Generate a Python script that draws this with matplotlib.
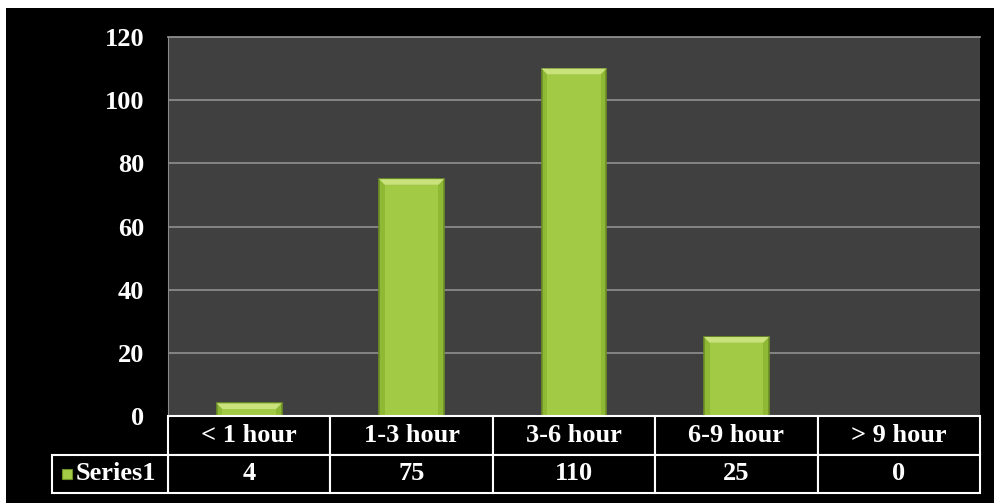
import matplotlib.pyplot as plt
from matplotlib.patches import Rectangle, Polygon

# data
categories = ['< 1 hour', '1-3 hour', '3-6 hour', '6-9 hour', '> 9 hour']
values = [4, 75, 110, 25, 0]
series_name = 'Series1'
yticks = [0, 20, 40, 60, 80, 100, 120]

W, H = 995, 503
fig = plt.figure(figsize=(W / 100, H / 100), dpi=100, facecolor='white')

# black slide background (white sliver at top/left)
fig.patches.append(Rectangle((6 / W, 0), 1, (H - 8) / H, transform=fig.transFigure,
                             facecolor='black', edgecolor='none', zorder=-10))

ax_l, ax_r, ax_t, ax_b = 168, 980, 37, 416
ax = fig.add_axes([ax_l / W, (H - ax_b) / H, (ax_r - ax_l) / W, (ax_b - ax_t) / H])
ax.set_facecolor('#404040')

font = dict(family='Liberation Serif', weight='bold', color='white')

x = range(len(categories))
bar_w = 0.4
ax.bar(x, values, width=bar_w, color='#8fb834', edgecolor='#6d8f25', linewidth=1.2, zorder=3)
# lighter bevel on top of each bar
bev = 1.8
for i, v in enumerate(values):
    if v <= 0:
        continue
    b = min(bev, v * 0.5)
    xl, xr = i - bar_w / 2, i + bar_w / 2
    ax.add_patch(Rectangle((xl + 0.035, 0), bar_w - 0.07, v - b, facecolor='#a2ca45',
                           edgecolor='none', zorder=3.5))
    ax.add_patch(Polygon([(xl, v), (xr, v), (xr - 0.035, v - b), (xl + 0.035, v - b)],
                         closed=True, facecolor='#c9e27c', edgecolor='none', zorder=4))

ax.set_xlim(-0.5, len(categories) - 0.5)
ax.set_ylim(0, 120)
ax.set_yticks(yticks)
ax.set_yticklabels([str(t) for t in yticks], fontsize=19, **font)
ax.tick_params(axis='y', length=0, pad=17)
ax.set_xticks([])
ax.grid(axis='y', color='#8a8a8a', linewidth=1.3, zorder=1)
for s in ['right', 'bottom']:
    ax.spines[s].set_visible(False)
ax.spines['left'].set_color('#8a8a8a')
ax.spines['top'].set_color('#8a8a8a')
ax.spines['top'].set_linewidth(1.3)

# data table under the axes
ah = ax_b - ax_t
aw = ax_r - ax_l
r1_top, r1_bot, r2_bot = 0, -(455 - ax_b) / ah, -(493 - ax_b) / ah
n = len(categories)
for i, (cat, v) in enumerate(zip(categories, values)):
    x0 = i / n
    for (yt, yb, txt) in [(r1_top, r1_bot, cat), (r1_bot, r2_bot, str(v))]:
        ax.add_patch(Rectangle((x0, yb), 1 / n, yt - yb, transform=ax.transAxes,
                               facecolor='black', edgecolor='white', linewidth=1.5,
                               clip_on=False, zorder=5))
        ax.text(x0 + 0.5 / n, (yt + yb) / 2, txt, transform=ax.transAxes, ha='center',
                va='center', fontsize=19, zorder=6, **font)

lx = -(ax_l - 52) / aw
ax.add_patch(Rectangle((lx, r2_bot), -lx, r1_bot - r2_bot, transform=ax.transAxes,
                       facecolor='black', edgecolor='white', linewidth=1.5,
                       clip_on=False, zorder=5))
ax.add_patch(Rectangle((lx + 10 / aw, (r1_bot + r2_bot) / 2 - 5 / ah), 10 / aw, 10 / ah,
                       transform=ax.transAxes, facecolor='#a3cb45', edgecolor='#6d8f25',
                       linewidth=0.8, clip_on=False, zorder=6))
ax.text(lx + 24 / aw, (r1_bot + r2_bot) / 2, series_name, transform=ax.transAxes,
        ha='left', va='center', fontsize=19, zorder=6, **font)

fig.savefig('out.png', dpi=100, facecolor=fig.get_facecolor())
